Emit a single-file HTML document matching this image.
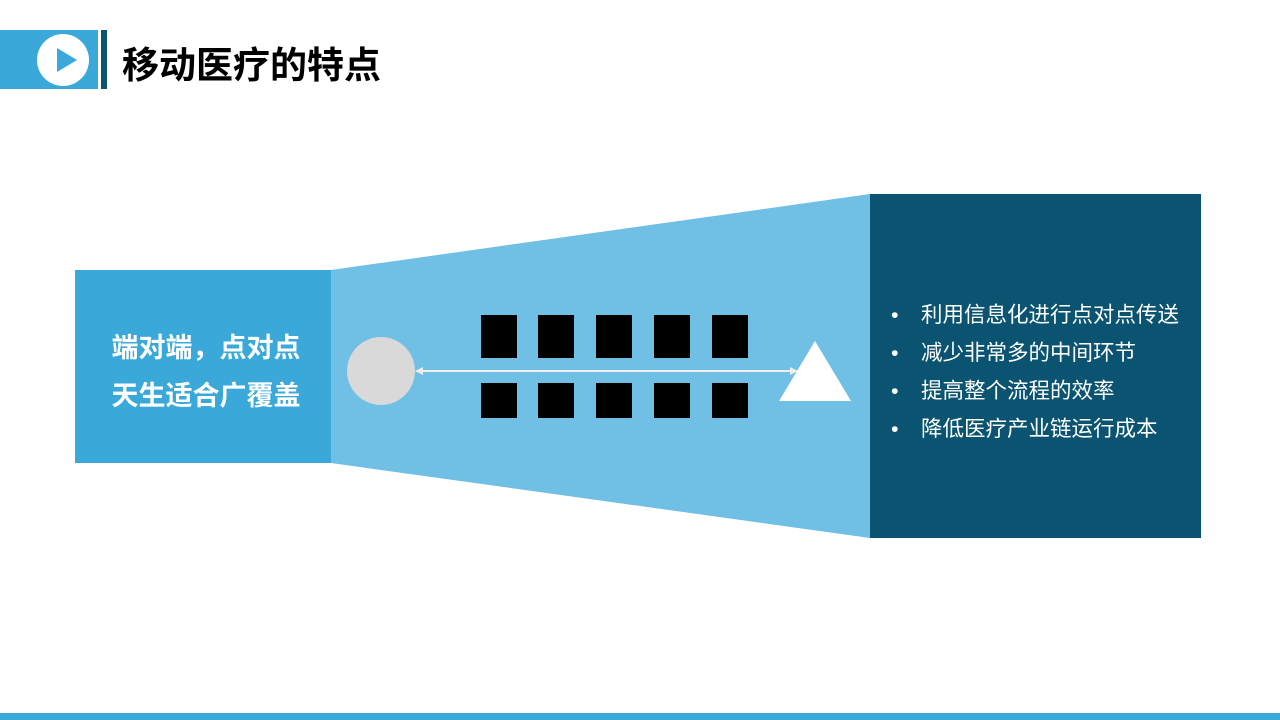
<!DOCTYPE html>
<html><head><meta charset="utf-8"><style>
body{margin:0;width:1280px;height:720px;position:relative;overflow:hidden;background:#fff;font-family:"Liberation Sans","Noto Sans CJK SC",sans-serif}
.a{position:absolute}
.sq{position:absolute;background:#000;width:36px}
.b{position:relative;padding-left:30px}
.b:before{content:"•";position:absolute;left:0}
</style></head><body>
<div class="a" style="left:0;top:30px;width:98px;height:59px;background:#3aa8d8"></div>
<div class="a" style="left:101px;top:30px;width:6px;height:59px;background:#0a5471"></div>
<div class="a" style="left:37px;top:34px;width:52px;height:52px;border-radius:50%;background:#fff"></div>
<svg class="a" style="left:0;top:0" width="1280" height="720">
<polygon points="57,48 57,72 77,60" fill="#3aa8d8"/>
<polygon points="331,270 870,194 870,538 331,463" fill="#70bfe4"/>
<circle cx="381" cy="371" r="34" fill="#d9d9d9"/>
<line x1="418" y1="371" x2="795" y2="371" stroke="#eee" stroke-width="2"/>
<polygon points="415,371 423,367 423,375" fill="#eee"/>
<polygon points="798,371 790,367 790,375" fill="#eee"/>
<polygon points="815,341 851,401 779,401" fill="#fff"/>
</svg>
<div class="a" style="left:122px;top:35px;font-size:37px;font-weight:bold;color:#000">移动医疗的特点</div>
<div class="a" style="left:75px;top:270px;width:256px;height:193px;background:#3aa8d8;color:#fff;font-weight:bold;font-size:27px;line-height:48px;text-align:center;padding-top:54px;box-sizing:border-box;padding-left:6px">端对端，点对点<br>天生适合广覆盖</div>
<div class="sq" style="left:481px;top:315px;height:43px"></div>
<div class="sq" style="left:538px;top:315px;height:43px"></div>
<div class="sq" style="left:596px;top:315px;height:43px"></div>
<div class="sq" style="left:654px;top:315px;height:43px"></div>
<div class="sq" style="left:712px;top:315px;height:43px"></div>
<div class="sq" style="left:481px;top:383px;height:35px"></div>
<div class="sq" style="left:538px;top:383px;height:35px"></div>
<div class="sq" style="left:596px;top:383px;height:35px"></div>
<div class="sq" style="left:654px;top:383px;height:35px"></div>
<div class="sq" style="left:712px;top:383px;height:35px"></div>
<div class="a" style="left:870px;top:194px;width:331px;height:344px;background:#0a5471"></div>
<div class="a" style="left:891px;top:296px;color:#fff;font-size:21.5px;line-height:38px">
<div class="b">利用信息化进行点对点传送</div>
<div class="b">减少非常多的中间环节</div>
<div class="b">提高整个流程的效率</div>
<div class="b">降低医疗产业链运行成本</div>
</div>
<div class="a" style="left:0;top:713px;width:1280px;height:7px;background:#3aa8d8"></div>
</body></html>
